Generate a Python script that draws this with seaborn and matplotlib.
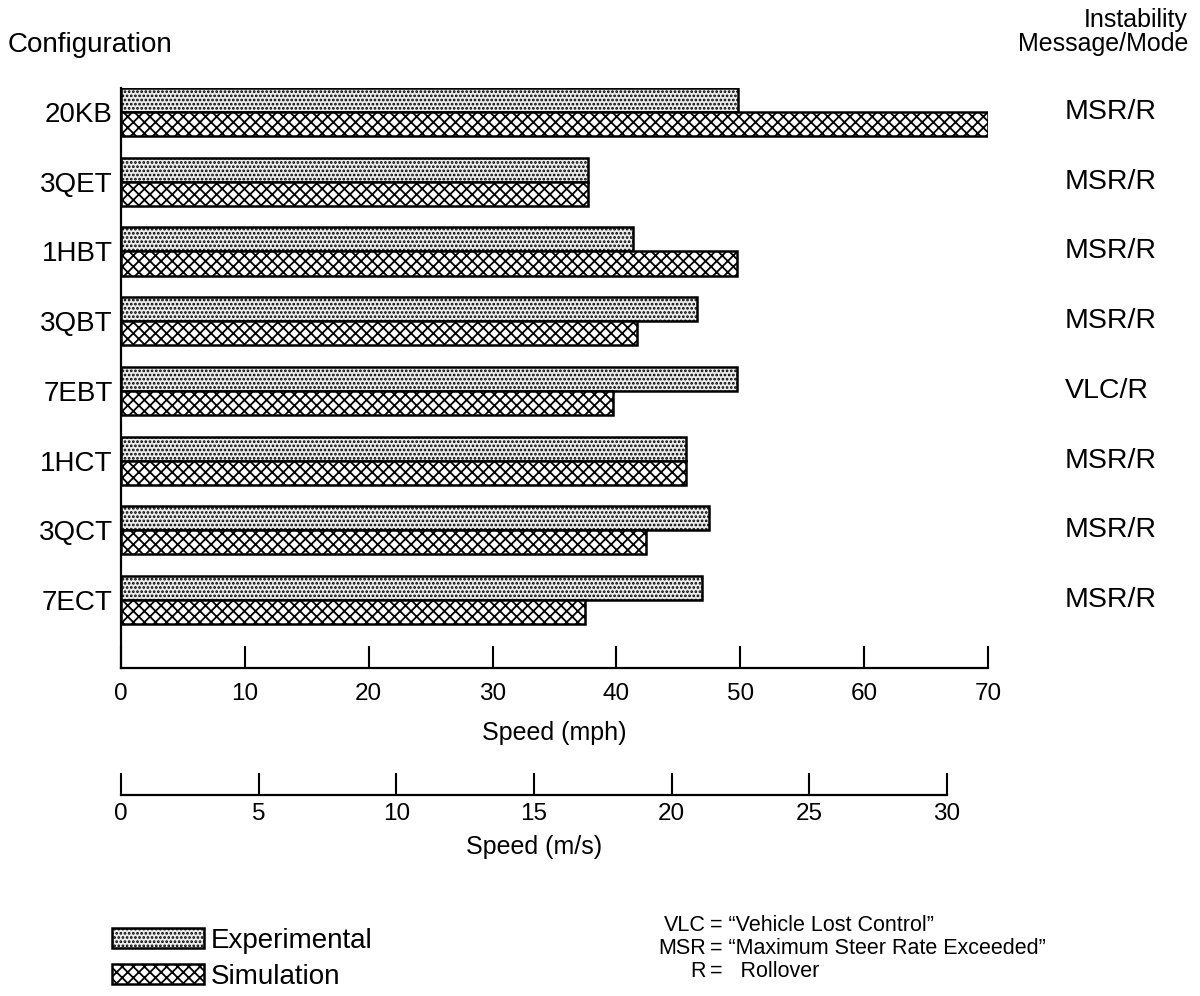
import matplotlib
matplotlib.use("Agg")
import matplotlib.pyplot as plt
import matplotlib.transforms as mtransforms
import seaborn as sns
import pandas as pd
from matplotlib.patches import Patch

# ---- data ----
configs = ["20KB", "3QET", "1HBT", "3QBT", "7EBT", "1HCT", "3QCT", "7ECT"]
experimental = [49.8, 37.7, 41.3, 46.5, 49.7, 45.6, 47.5, 46.9]
simulation = [70.0, 37.7, 49.7, 41.7, 39.7, 45.6, 42.4, 37.5]
modes = ["MSR/R", "MSR/R", "MSR/R", "MSR/R", "VLC/R", "MSR/R", "MSR/R", "MSR/R"]
series_names = ["Experimental", "Simulation"]
mph_ticks = [0, 10, 20, 30, 40, 50, 60, 70]
ms_ticks = [0, 5, 10, 15, 20, 25, 30]
notes_left = ["VLC", "MSR", "R"]
notes_right = ["= \u201cVehicle Lost Control\u201d",
               "= \u201cMaximum Steer Rate Exceeded\u201d",
               "=   Rollover"]

df = pd.DataFrame({
    "config": configs * 2,
    "speed": experimental + simulation,
    "type": [series_names[0]] * len(configs) + [series_names[1]] * len(configs),
})

sns.set_theme(style="white")
plt.rcParams["font.family"] = ["Liberation Sans", "DejaVu Sans"]
plt.rcParams["hatch.linewidth"] = 1.3
for k in ["text.color", "axes.labelcolor", "xtick.color", "ytick.color",
          "axes.edgecolor"]:
    plt.rcParams[k] = "black"

W, H = 1200, 996
fig = plt.figure(figsize=(W / 100, H / 100), dpi=100)
fig.patch.set_facecolor("white")

def fx(px):
    return px / W

def fy(py):
    return 1 - py / H

ax = fig.add_axes([fx(121), fy(668), fx(988) - fx(121), fy(88) - fy(668)])
ax.set_facecolor("none")

sns.barplot(data=df, y="config", x="speed", hue="type", orient="h",
            order=configs, hue_order=series_names, width=0.69,
            palette=["white", "white"], edgecolor="black", linewidth=1.8,
            saturation=1, legend=False, ax=ax)

hatches = ["....", "xxx"]
faces = ["#ececec", "white"]
for cont, h, fc in zip(ax.containers, hatches, faces):
    for p in cont:
        p.set_hatch(h)
        p.set_facecolor(fc)
        p.set_edgecolor("black")

ax.set_xlim(0, 70)
ax.set_ylim(7.976, -0.345)
ax.set_xticks(mph_ticks)
ax.set_xticklabels([str(t) for t in mph_ticks])
ax.tick_params(axis="x", direction="in", length=16, width=1.5, pad=11,
               labelsize=17.5, color="black", bottom=True)
ax.tick_params(axis="y", length=0, pad=6, labelsize=20)
ax.set_xlabel("Speed (mph)", fontsize=18, labelpad=11)
ax.set_ylabel("")
for s in ["top", "right"]:
    ax.spines[s].set_visible(False)
for s in ["left", "bottom"]:
    ax.spines[s].set_color("black")
    ax.spines[s].set_linewidth(1.6)

# right-hand mode labels (x in figure coords, y in data)
trans = mtransforms.blended_transform_factory(fig.transFigure, ax.transData)
for i, m in enumerate(modes):
    ax.text(fx(1065), i, m, transform=trans, ha="left", va="center",
            fontsize=20.5, clip_on=False)

# headers
fig.text(fx(8), fy(45), "Configuration", ha="left", va="center", fontsize=20)
fig.text(fx(1188), fy(32), "Instability\nMessage/Mode", ha="right",
         va="center", multialignment="right", fontsize=18, linespacing=1.0)

# secondary m/s axis
ax2 = fig.add_axes([fx(121), fy(795), fx(947) - fx(121), 0.02])
ax2.set_facecolor("none")
ax2.set_xlim(0, 30)
ax2.set_ylim(0, 1)
ax2.set_yticks([])
ax2.set_xticks(ms_ticks)
ax2.set_xticklabels([str(t) for t in ms_ticks])
ax2.tick_params(axis="x", direction="in", length=16, width=1.5, pad=6,
                labelsize=17.5, color="black", bottom=True)
for s in ["top", "right", "left"]:
    ax2.spines[s].set_visible(False)
ax2.spines["bottom"].set_color("black")
ax2.spines["bottom"].set_linewidth(1.6)
ax2.set_xlabel("Speed (m/s)", fontsize=18, labelpad=7)

# legend
handles = [Patch(facecolor=faces[0], edgecolor="black", hatch=hatches[0], linewidth=1.8),
           Patch(facecolor=faces[1], edgecolor="black", hatch=hatches[1], linewidth=1.8)]
fig.legend(handles, series_names, loc="upper left",
           bbox_to_anchor=(fx(112), fy(928)), frameon=False, fontsize=20,
           handlelength=3.3, handleheight=0.75, handletextpad=0.25,
           labelspacing=0.35, borderpad=0, borderaxespad=0)

# notes
for k, (l, r) in enumerate(zip(notes_left, notes_right)):
    y = fy(925 + 23 * k)
    fig.text(fx(706), y, l, ha="right", va="center", fontsize=15.5)
    fig.text(fx(710), y, r, ha="left", va="center", fontsize=15.5)

fig.savefig("out.png", dpi=100, facecolor="white")
